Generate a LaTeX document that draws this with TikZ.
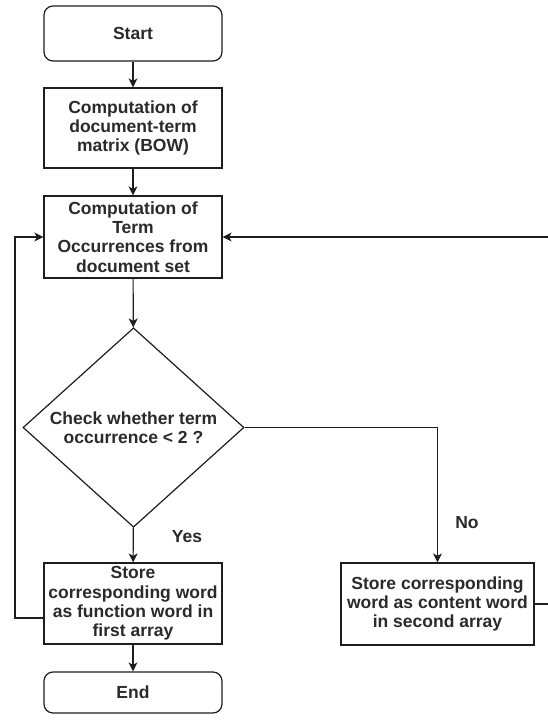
\documentclass[tikz,border=0pt]{standalone}
\usepackage{fontspec}
\setmainfont{Liberation Sans}
\usetikzlibrary{shapes.geometric,arrows.meta}
\definecolor{ink}{HTML}{1E1E1E}
\definecolor{txt}{HTML}{2A2A2A}
\begin{document}
\begin{tikzpicture}[x=1pt,y=-1pt,
  every node/.style={font=\fontsize{17.5}{19.3}\selectfont\bfseries, text=txt},
  base/.style={draw=ink, line width=1.2pt, align=center, inner sep=0pt},
  terminal/.style={base, rounded corners=9pt, minimum width=178pt},
  stepbox/.style={base, minimum width=178pt},
  decision/.style={base, diamond, minimum width=221pt, minimum height=189pt},
  arr/.style={draw=ink, line width=1.2pt, -{Stealth[length=9pt,width=9pt,inset=2.5pt]}},
  plain/.style={draw=ink, line width=1.2pt}]
\clip (0,0) rectangle (548,726);
\fill[white] (0,0) rectangle (548,726);

\node[terminal, minimum height=55pt] (start) at (133,33.5) {Start};
\node[stepbox, minimum height=80pt] (bow) at (133,128) {Computation of\\document-term\\matrix (BOW)};
\node[stepbox, minimum height=82pt] (occ) at (133,237) {Computation of\\Term\\Occurrences from\\document set};
\node[decision] (chk) at (133.5,427.5) {Check whether term\\occurrence < 2 ?};
\node[stepbox, minimum height=81pt] (func) at (133,603.5) {Store\\corresponding word\\as function word in\\first array};
\node[terminal, minimum height=41pt] (fin) at (133,692.5) {End};
\node[stepbox, minimum width=193pt, minimum height=82pt] (cont) at (437.5,604) {Store corresponding\\word as content word\\in second array};

\node (yes) at (187,537) {Yes};
\node (no) at (467,523) {No};

\draw[arr] (start) -- (bow);
\draw[arr] (bow) -- (occ);
\draw[arr] (occ) -- (chk);
\draw[arr] (chk) -- (func);
\draw[arr] (func) -- (fin);
\draw[arr] (chk.east) -| (cont.north);

% loop back from the first array box
\coordinate (lcorner) at (15,618);
\draw[arr] (func.west |- lcorner) -- (lcorner) |- (occ.west);

% loop back from the second array box, running past the right edge
\coordinate (rcorner) at (562,604);
\draw[arr] (cont.east) -- (rcorner) |- (occ.east);
\end{tikzpicture}
\end{document}
